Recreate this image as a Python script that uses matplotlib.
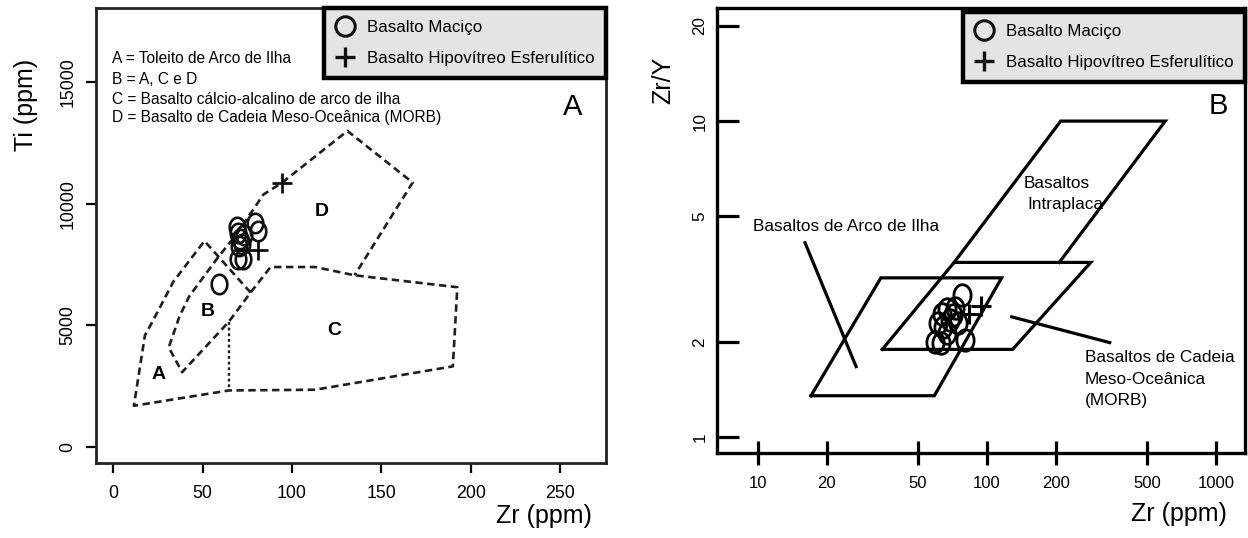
import numpy as np
import matplotlib
matplotlib.use("Agg")
import matplotlib.pyplot as plt
from matplotlib.path import Path
from matplotlib.lines import Line2D
from matplotlib.ticker import NullLocator, FixedLocator, FixedFormatter
from matplotlib import font_manager as fm

names = {f.name for f in fm.fontManager.ttflist}
FONT = "Liberation Sans" if "Liberation Sans" in names else "DejaVu Sans"
plt.rcParams["font.family"] = [FONT, "DejaVu Sans"]

# ---------------- Panel A : Ti vs Zr (Pearce & Cann) ----------------
zr_a_circ = [69, 70, 71, 72, 73, 79, 81, 70, 72.5, 59, 70.5]
ti_a_circ = [9050, 8800, 8550, 8350, 8700, 9200, 8900, 7750, 7750, 6700, 8250]
zr_a_plus = [94.5, 81.2]
ti_a_plus = [10870, 8100]

field_a_zr = [76.8, 51, 33.6, 21.5, 17.7, 11.5, 64.6, 113, 190, 192.5, 135, 113, 88,
              76.8, 64.6, 38.5, 31, 37, 42.5, 59, 69, 84, 94.5, 131, 167.5, 135]
field_a_ti = [6350, 8470, 6800, 5100, 4600, 1700, 2330, 2360, 3320, 6570, 7060, 7400, 7400,
              6350, 5150, 3080, 4100, 5370, 6200, 7840, 8750, 10380, 10870, 12990, 10870, 7060]
dotted_a_zr = [64.6, 64.6]
dotted_a_ti = [5150, 2330]

region_labels = ["A", "B", "C", "D"]
region_zr = [25.4, 52.9, 123.9, 116.6]
region_ti = [2965, 5577, 4800, 9672]

legend_a_notes = ["A = Toleito de Arco de Ilha",
                  "B = A, C e D",
                  "C = Basalto cálcio-alcalino de arco de ilha",
                  "D = Basalto de Cadeia Meso-Oceânica (MORB)"]

xticks_a = [0, 50, 100, 150, 200, 250]
yticks_a = [0, 5000, 10000, 15000]

# ---------------- Panel B : Zr/Y vs Zr (Pearce & Norry) ----------------
zr_b_circ = [59.4, 77.6, 80.3, 63.5, 69.0, 64.5, 72.6, 61.4, 66.8, 75.0, 71.4, 67.2, 63.2]
zry_b_circ = [2.00, 2.82, 2.03, 2.46, 2.35, 2.23, 2.56, 2.29, 2.13, 2.29, 2.43, 2.54, 1.98]
zr_b_plus = [94.6, 84]
zry_b_plus = [2.60, 2.45]

iab_zr = [17.1, 34.5, 116, 59, 17.1]
iab_zry = [1.351, 3.19, 3.19, 1.351, 1.351]
morb_zr = [35, 72, 284, 129.5, 35]
morb_zry = [1.894, 3.57, 3.57, 1.894, 1.894]
wpb_zr = [72, 210, 600, 207]
wpb_zry = [3.57, 10, 10, 3.57]
arc_ptr_zr = [16.1, 26.9]
arc_ptr_zry = [4.12, 1.67]
morb_ptr_zr = [128.4, 343.6]
morb_ptr_zry = [2.40, 1.99]

xticks_b = [10, 20, 50, 100, 200, 500, 1000]
yticks_b = [1, 2, 5, 10, 20]

legend_labels = ["Basalto Maciço", "Basalto Hipovítreo Esferulítico"]

# tall ellipse marker (as drawn in the source)
t = np.linspace(0, 2 * np.pi, 60)
ellipse = Path(np.column_stack([0.8 * np.cos(t), np.sin(t)]), closed=True)

fig = plt.figure(figsize=(12.48, 5.38), dpi=100)
W, H = 1248, 538
axA = fig.add_axes([96 / W, 75 / H, 510 / W, 455 / H])
axB = fig.add_axes([717 / W, 85 / H, 528 / W, 445 / H])

# ---------- Panel A ----------
axA.plot(field_a_zr, field_a_ti, color="#1e1e1e", lw=1.9, dashes=(2.8, 1.7))
axA.plot(dotted_a_zr, dotted_a_ti, color="#1e1e1e", lw=1.7, dashes=(1.2, 1.2))
axA.plot(zr_a_circ, ti_a_circ, ls="none", marker=ellipse, ms=14, mfc="none",
         mec="#111111", mew=1.9)
axA.plot(zr_a_plus, ti_a_plus, ls="none", marker="+", ms=14, mec="#111111", mew=2.0)
for lab, x, y in zip(region_labels, region_zr, region_ti):
    axA.text(x, y, lab, fontsize=14, fontweight="bold", ha="center", va="center")
for i, s in enumerate(legend_a_notes):
    axA.text(0.031, [0.888, 0.842, 0.800, 0.759][i], s, transform=axA.transAxes,
             fontsize=11.2, ha="left", va="center")
axA.text(0.9345, 0.783, "A", transform=axA.transAxes, fontsize=21, ha="center", va="center")

axA.set_xlim(-9.7, 275.7)
axA.set_ylim(-650, 18040)
axA.set_xticks(xticks_a)
axA.set_yticks(yticks_a)
axA.tick_params(axis="both", direction="out", length=7, width=1.6, labelsize=12.8)
axA.tick_params(axis="x", pad=9)
axA.tick_params(axis="y", pad=7, labelrotation=90)
for lbl in axA.get_yticklabels():
    lbl.set_va("center")
for sp in axA.spines.values():
    sp.set_linewidth(2.0)
    sp.set_color("#222222")
axA.set_xlabel("Zr (ppm)", fontsize=18)
axA.xaxis.label.set_ha("right")
axA.xaxis.label.set_va("center")
axA.xaxis.set_label_coords(0.9725, -0.1165)
axA.set_ylabel("Ti (ppm)", fontsize=18)
axA.yaxis.label.set_va("center")
axA.yaxis.set_label_coords(-0.137, 0.787)

hc = Line2D([], [], ls="none", marker="o", ms=14, mfc="none", mec="#111111", mew=2.2)
hp = Line2D([], [], ls="none", marker="+", ms=15, mec="#111111", mew=2.4)


def make_legend(ax, anchor):
    leg = ax.legend([hc, hp], legend_labels, loc="upper right", bbox_to_anchor=anchor,
                    borderaxespad=0, fancybox=False, framealpha=1, facecolor="#e4e4e4",
                    edgecolor="black", fontsize=12.2, handlelength=1.1, handletextpad=0.7,
                    borderpad=0.7, labelspacing=0.95)
    leg.get_frame().set_linewidth(3.2)
    return leg


make_legend(axA, (1.0, 1.0))

# ---------- Panel B ----------
lwB = 2.3
axB.plot(iab_zr, iab_zry, color="black", lw=lwB, solid_joinstyle="miter")
axB.plot(morb_zr, morb_zry, color="black", lw=lwB, solid_joinstyle="miter")
axB.plot(wpb_zr, wpb_zry, color="black", lw=lwB, solid_joinstyle="miter")
axB.plot(arc_ptr_zr, arc_ptr_zry, color="black", lw=lwB)
axB.plot(morb_ptr_zr, morb_ptr_zry, color="black", lw=lwB)
axB.plot(zr_b_circ, zry_b_circ, ls="none", marker=ellipse, ms=15.5, mfc="none",
         mec="black", mew=2.0)
axB.plot(zr_b_plus, zry_b_plus, ls="none", marker="+", ms=15, mec="black", mew=2.2)

axB.text(9.57, 4.63, "Basaltos de Arco de Ilha", fontsize=12.4, ha="left", va="center")
axB.text(144.5, 6.33, "Basaltos", fontsize=12.4, ha="left", va="center")
axB.text(150.5, 5.45, "Intraplaca", fontsize=12.4, ha="left", va="center")
axB.text(268, 1.786, "Basaltos de Cadeia", fontsize=12.4, ha="left", va="center")
axB.text(268, 1.526, "Meso-Oceânica", fontsize=12.4, ha="left", va="center")
axB.text(268, 1.307, "(MORB)", fontsize=12.4, ha="left", va="center")
axB.text(0.949, 0.779, "B", transform=axB.transAxes, fontsize=21, ha="center", va="center")

axB.set_xscale("log")
axB.set_yscale("log")
axB.set_xlim(6.65, 1337)
axB.set_ylim(0.89, 22.8)
axB.xaxis.set_major_locator(FixedLocator(xticks_b))
axB.xaxis.set_major_formatter(FixedFormatter([str(v) for v in xticks_b]))
axB.yaxis.set_major_locator(FixedLocator(yticks_b))
axB.yaxis.set_major_formatter(FixedFormatter([str(v) for v in yticks_b]))
axB.xaxis.set_minor_locator(NullLocator())
axB.yaxis.set_minor_locator(NullLocator())
axB.tick_params(axis="x", direction="inout", length=17, width=2.3, labelsize=12, pad=8)
axB.tick_params(axis="y", direction="in", length=16, width=2.3, labelsize=12.3, pad=7,
                labelrotation=90)
for lbl in axB.get_yticklabels():
    lbl.set_va("center")
for sp in axB.spines.values():
    sp.set_linewidth(2.4)
axB.set_xlabel("Zr (ppm)", fontsize=18)
axB.xaxis.label.set_ha("right")
axB.xaxis.label.set_va("center")
axB.xaxis.set_label_coords(0.9648, -0.1364)
axB.set_ylabel("Zr/Y", fontsize=18)
axB.yaxis.label.set_va("center")
axB.yaxis.set_label_coords(-0.102, 0.838)

make_legend(axB, (1.0, 0.99))

fig.savefig("out.png", dpi=100)
